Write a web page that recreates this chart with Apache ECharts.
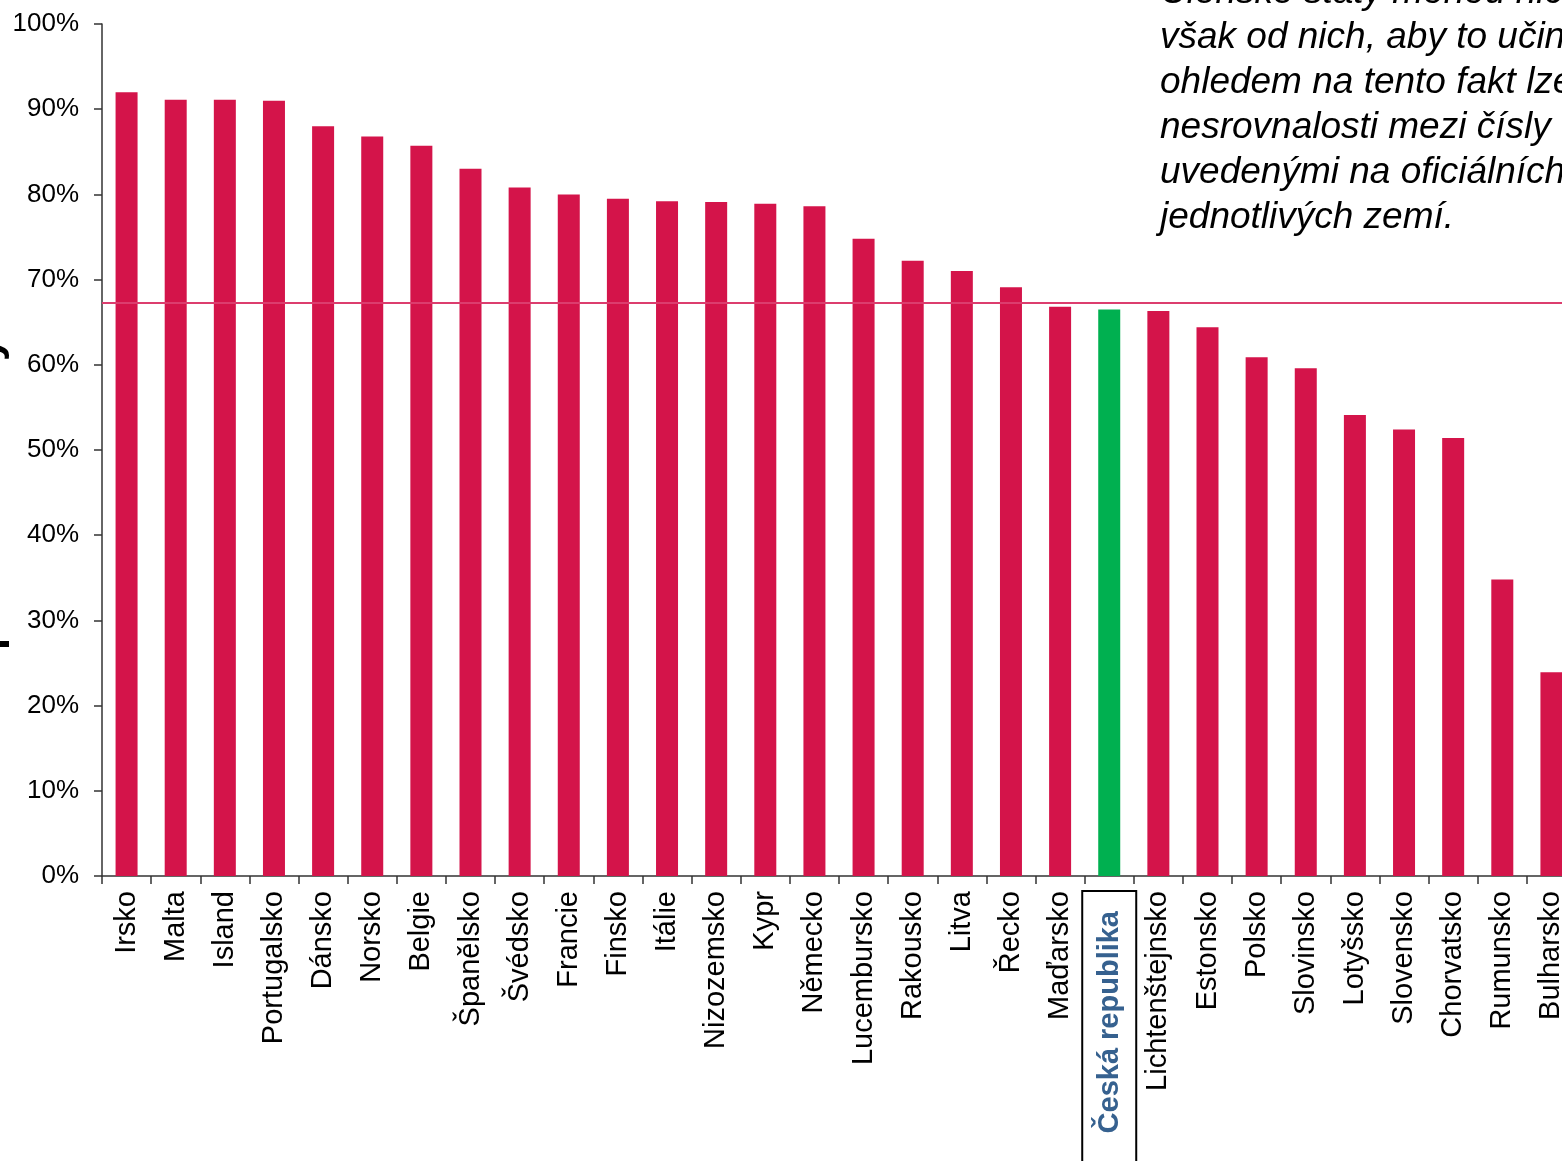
<!DOCTYPE html>
<html>
<head>
<meta charset="utf-8">
<script src="https://cdn.jsdelivr.net/npm/echarts@6/dist/echarts.min.js"></script>
<style>
  html, body { margin: 0; padding: 0; background: #fff; }
  #chart { width: 1562px; height: 1161px; }
</style>
</head>
<body>
<div id="chart"></div>
<script>
// data
const countries = ['Irsko', 'Malta', 'Island', 'Portugalsko', 'Dánsko', 'Norsko', 'Belgie', 'Španělsko',
  'Švédsko', 'Francie', 'Finsko', 'Itálie', 'Nizozemsko', 'Kypr', 'Německo', 'Lucembursko', 'Rakousko',
  'Litva', 'Řecko', 'Maďarsko', 'Česká republika', 'Lichtenštejnsko', 'Estonsko', 'Polsko', 'Slovinsko',
  'Lotyšsko', 'Slovensko', 'Chorvatsko', 'Rumunsko', 'Bulharsko']
const shares = [92.0, 91.1, 91.1, 91.0, 88.0, 86.8, 85.7, 83.0,
  80.8, 80.0, 79.5, 79.2, 79.1, 78.9, 78.6, 74.8, 72.2,
  71.0, 69.1, 66.8, 66.5, 66.3, 64.4, 60.9, 59.6,
  54.1, 52.4, 51.4, 34.8, 23.9]
const average = 67.3
const highlighted = 'Česká republika'
const axisTitle = 'podíl očkovaných'
const noteLines = [
  'Členské státy mohou nicméně hlásit údaje, ECDC nevyžaduje',
  'však od nich, aby to učinily. S',
  'ohledem na tento fakt lze očekávat',
  'nesrovnalosti mezi čísly ECDC a',
  'uvedenými na oficiálních stránkách',
  'jednotlivých zemí.'
]

const FONT = 'Liberation Sans, Arial, sans-serif'
const RED = '#D4144A'
const GREEN = '#00B050'

const chart = echarts.init(document.getElementById('chart'))

const option = {
  animation: false,
  backgroundColor: '#fff',
  // chart is cut off on the right, so the grid runs past the canvas edge
  grid: { left: 102, right: -14, top: 24, bottom: 285, containLabel: false, outerBoundsMode: 'none' },
  xAxis: {
    type: 'category',
    data: countries,
    axisLine: { lineStyle: { color: '#333', width: 1.5 } },
    axisTick: { show: true, length: 8, lineStyle: { color: '#333', width: 1.5 } },
    axisLabel: {
      interval: 0,
      rotate: 90,
      margin: 15,
      fontSize: 29,
      fontFamily: FONT,
      color: '#000',
      formatter: (v) => v === highlighted ? '{cz|' + v + '}' : v,
      rich: {
        cz: {
          fontSize: 29,
          fontWeight: 'bold',
          fontFamily: FONT,
          color: '#36618F',
          lineHeight: 28,
          borderColor: '#000',
          borderWidth: 2,
          padding: [13, 20, 12, 60]
        }
      }
    }
  },
  yAxis: {
    type: 'value',
    min: 0,
    max: 100,
    interval: 10,
    splitLine: { show: false },
    axisLine: { show: true, lineStyle: { color: '#333', width: 1.5 } },
    axisTick: { show: true, length: 8, lineStyle: { color: '#333', width: 1.5 } },
    axisLabel: {
      formatter: '{value}%',
      margin: 23,
      fontSize: 26,
      fontFamily: FONT,
      color: '#000'
    }
  },
  series: [{
    type: 'bar',
    barWidth: 22,
    data: countries.map((c, i) => ({
      value: shares[i],
      itemStyle: { color: c === highlighted ? GREEN : RED }
    })),
    markLine: {
      silent: true,
      symbol: 'none',
      label: { show: false },
      lineStyle: { color: '#DC3D6E', width: 2, type: 'solid' },
      data: [{ yAxis: average }]
    }
  }],
  graphic: [
    {
      type: 'text',
      x: 10,
      y: 650,
      rotation: Math.PI / 2,
      style: {
        text: axisTitle,
        font: 'bold 43px ' + FONT,
        fill: '#000',
        align: 'left',
        verticalAlign: 'bottom'
      }
    },
    {
      type: 'text',
      x: 1160,
      y: -30,
      style: {
        text: noteLines.join('\n'),
        font: 'italic 37px ' + FONT,
        lineHeight: 45,
        fill: '#000',
        align: 'left',
        verticalAlign: 'top'
      }
    }
  ]
}

chart.setOption(option)
</script>
</body>
</html>
